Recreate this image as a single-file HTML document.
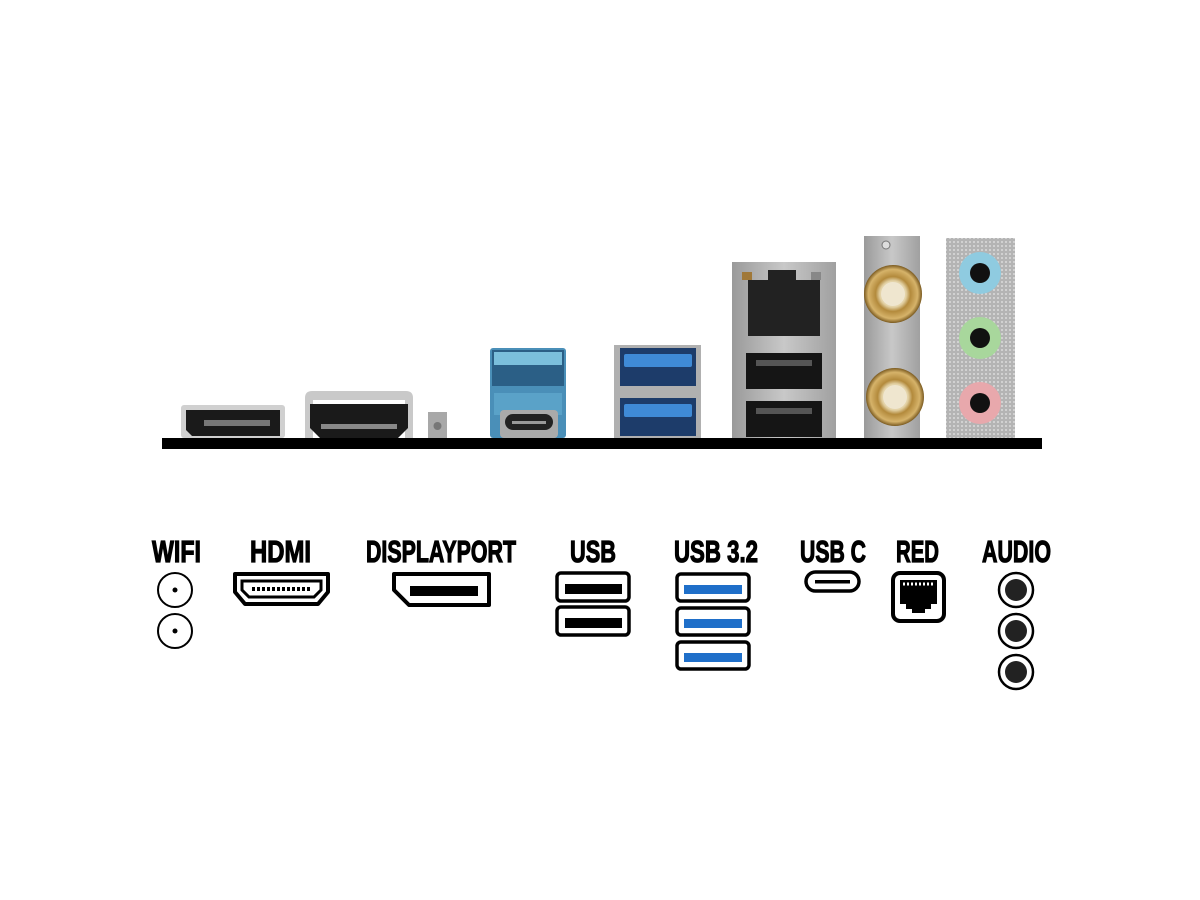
<!DOCTYPE html>
<html><head><meta charset="utf-8"><style>html,body{margin:0;padding:0;background:#fff}svg{display:block}</style></head>
<body>
<svg width="1200" height="900" viewBox="0 0 1200 900" xmlns="http://www.w3.org/2000/svg">
<defs>
<radialGradient id="gold" cx="50%" cy="50%" r="50%"><stop offset="0" stop-color="#f4ead0"/><stop offset="0.45" stop-color="#e3d2a6"/><stop offset="0.6" stop-color="#b38a3c"/><stop offset="0.85" stop-color="#d6b36a"/><stop offset="1" stop-color="#7a5a20"/></radialGradient>
<linearGradient id="metal" x1="0" x2="1"><stop offset="0" stop-color="#9a9a9a"/><stop offset="0.5" stop-color="#c8c8c8"/><stop offset="1" stop-color="#a0a0a0"/></linearGradient>
<pattern id="dots" width="4" height="4" patternUnits="userSpaceOnUse"><rect width="4" height="4" fill="#b4b4b4"/><circle cx="2" cy="2" r="0.9" fill="#e6e6e6"/></pattern>
</defs>
<rect x="162" y="438" width="880" height="11" fill="#000"/>
<rect x="181" y="405" width="104" height="33" rx="3" fill="#d0d0d0"/>
<path d="M186 410 H280 V436 H192 L186 430 Z" fill="#1a1a1a"/>
<rect x="204" y="420" width="66" height="6" fill="#777"/>
<path d="M305 438 V398 Q305 391 312 391 H406 Q413 391 413 398 V438 H405 V400 H313 V438 Z" fill="#c9c9c9"/>
<path d="M310 404 H408 V428 L398 438 H320 L310 428 Z" fill="#1a1a1a"/>
<rect x="321" y="424" width="76" height="5" fill="#888"/>
<rect x="428" y="412" width="19" height="26" fill="#a8a8a8"/>
<circle cx="437.5" cy="426" r="4" fill="#777"/>
<rect x="490" y="348" width="76" height="90" rx="3" fill="#4a8fb8"/>
<rect x="492" y="350" width="72" height="36" fill="#2b5f86"/>
<rect x="494" y="352" width="68" height="13" fill="#7bbfdc"/>
<rect x="494" y="393" width="68" height="22" fill="#5aa2c8"/>
<rect x="500" y="410" width="58" height="28" rx="4" fill="#aaa"/>
<rect x="505" y="414" width="48" height="16" rx="8" fill="#222"/>
<rect x="512" y="421" width="34" height="3" fill="#999"/>
<rect x="614" y="345" width="87" height="93" fill="#b0b0b0"/>
<rect x="620" y="348" width="76" height="38" fill="#1d3c6a"/>
<rect x="624" y="354" width="68" height="13" rx="2" fill="#3f8ad6"/>
<rect x="620" y="398" width="76" height="38" fill="#1d3c6a"/>
<rect x="624" y="404" width="68" height="13" rx="2" fill="#3f8ad6"/>
<rect x="732" y="262" width="104" height="176" fill="url(#metal)"/>
<rect x="742" y="272" width="10" height="8" fill="#a07838"/>
<rect x="811" y="272" width="10" height="8" fill="#888"/>
<path d="M748 280 H768 V270 H796 V280 H820 V336 H748 Z" fill="#222"/>
<rect x="746" y="353" width="76" height="36" fill="#151515"/>
<rect x="756" y="360" width="56" height="6" fill="#555"/>
<rect x="746" y="401" width="76" height="36" fill="#151515"/>
<rect x="756" y="408" width="56" height="6" fill="#555"/>
<rect x="864" y="236" width="56" height="202" fill="url(#metal)"/>
<circle cx="886" cy="245" r="4" fill="#ddd" stroke="#777"/>
<circle cx="893" cy="294" r="29" fill="url(#gold)"/>
<circle cx="893" cy="294" r="12" fill="#efe6cf"/>
<circle cx="895" cy="397" r="29" fill="url(#gold)"/>
<circle cx="895" cy="397" r="12" fill="#efe6cf"/>
<rect x="946" y="238" width="69" height="200" fill="url(#dots)"/>
<circle cx="980" cy="273" r="21" fill="#8fcbe0"/><circle cx="980" cy="273" r="10" fill="#111"/>
<circle cx="980" cy="338" r="21" fill="#a8d79c"/><circle cx="980" cy="338" r="10" fill="#111"/>
<circle cx="980" cy="403" r="21" fill="#e8a8ac"/><circle cx="980" cy="403" r="10" fill="#111"/>
<g font-family="'Liberation Sans Narrow','Liberation Sans',sans-serif" font-weight="bold" font-size="31" fill="#000" stroke="#000" stroke-width="1.2">
<text x="152" y="562" textLength="49" lengthAdjust="spacingAndGlyphs">WIFI</text>
<text x="250" y="562" textLength="61" lengthAdjust="spacingAndGlyphs">HDMI</text>
<text x="366" y="562" textLength="150" lengthAdjust="spacingAndGlyphs">DISPLAYPORT</text>
<text x="570" y="562" textLength="46" lengthAdjust="spacingAndGlyphs">USB</text>
<text x="674" y="562" textLength="84" lengthAdjust="spacingAndGlyphs">USB 3.2</text>
<text x="800" y="562" textLength="66" lengthAdjust="spacingAndGlyphs">USB C</text>
<text x="896" y="562" textLength="43" lengthAdjust="spacingAndGlyphs">RED</text>
<text x="982" y="562" textLength="69" lengthAdjust="spacingAndGlyphs">AUDIO</text>
</g>
<g fill="none" stroke="#000" stroke-width="2">
<circle cx="175" cy="590" r="17"/><circle cx="175" cy="631" r="17"/>
</g>
<circle cx="175" cy="590" r="2.5"/><circle cx="175" cy="631" r="2.5"/>
<path d="M235 574 H328 V592 L318 604 H245 L235 592 Z" fill="none" stroke="#000" stroke-width="4" stroke-linejoin="round"/>
<path d="M242 581 H321 V590 L314 597 H249 L242 590 Z" fill="none" stroke="#000" stroke-width="3"/>
<line x1="252" y1="589" x2="312" y2="589" stroke="#000" stroke-width="4" stroke-dasharray="3 2"/>
<path d="M394 574 H489 V605 H409 L394 590 Z" fill="none" stroke="#000" stroke-width="4" stroke-linejoin="round"/>
<rect x="410" y="586" width="68" height="10" fill="#000"/>
<g fill="none" stroke="#000" stroke-width="3.5">
<rect x="557" y="573" width="72" height="28" rx="4"/><rect x="557" y="607" width="72" height="28" rx="4"/>
<rect x="677" y="574" width="72" height="27" rx="4"/><rect x="677" y="608" width="72" height="27" rx="4"/><rect x="677" y="642" width="72" height="27" rx="4"/>
</g>
<rect x="565" y="584" width="57" height="10" fill="#000"/><rect x="565" y="618" width="57" height="10" fill="#000"/>
<rect x="684" y="585" width="58" height="9" fill="#1f6fc9"/><rect x="684" y="619" width="58" height="9" fill="#1f6fc9"/><rect x="684" y="653" width="58" height="9" fill="#1f6fc9"/>
<rect x="806" y="572" width="53" height="19" rx="9.5" fill="none" stroke="#000" stroke-width="3.5"/>
<rect x="815" y="580" width="35" height="3.5" fill="#000"/>
<rect x="893" y="573" width="51" height="48" rx="7" fill="none" stroke="#000" stroke-width="4"/>
<path d="M900 580 H937 V604 H931 V609 H925 V613 H912 V609 H906 V604 H900 Z" fill="#000"/>
<line x1="903" y1="584" x2="934" y2="584" stroke="#fff" stroke-width="3" stroke-dasharray="2 2"/>
<g fill="none" stroke="#000" stroke-width="2.5">
<circle cx="1016" cy="590" r="17"/><circle cx="1016" cy="631" r="17"/><circle cx="1016" cy="672" r="17"/>
</g>
<circle cx="1016" cy="590" r="11" fill="#222"/><circle cx="1016" cy="631" r="11" fill="#222"/><circle cx="1016" cy="672" r="11" fill="#222"/>
</svg>
</body></html>
